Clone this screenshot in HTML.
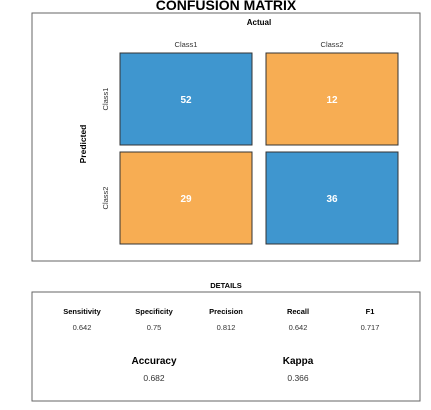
<!DOCTYPE html>
<html><head><meta charset="utf-8"><style>
body{margin:0;background:#fff;}
svg{display:block;font-family:"Liberation Sans",sans-serif;}
</style></head><body>
<svg id="c" width="431" height="410">
<text x="226" y="10" text-anchor="middle" font-size="14" font-weight="bold">CONFUSION MATRIX</text>
<rect x="32" y="13" width="388" height="248" fill="none" stroke="#666" stroke-width="1"/>
<text x="259" y="25" text-anchor="middle" font-size="8" font-weight="bold">Actual</text>
<text transform="translate(86,144) rotate(-90)" text-anchor="middle" font-size="8.5" font-weight="bold">Predicted</text>
<g id="cells"></g>
<text x="226" y="288" text-anchor="middle" font-size="7.5" font-weight="bold">DETAILS</text>
<rect x="32" y="292" width="388" height="109" fill="none" stroke="#666" stroke-width="1"/>
<g id="details"></g>
</svg>
<script>
const classes=["Class1","Class2"];
const counts=[[52,12],[29,36]];
const metricNames=["Sensitivity","Specificity","Precision","Recall","F1"];
const metricValues=["0.642","0.75","0.812","0.642","0.717"];
const summaryNames=["Accuracy","Kappa"];
const summaryValues=["0.682","0.366"];

const NS="http://www.w3.org/2000/svg";
function mk(tag,attrs,parent,txt){const e=document.createElementNS(NS,tag);for(const k in attrs)e.setAttribute(k,attrs[k]);if(txt!==undefined)e.textContent=txt;parent.appendChild(e);return e;}
const colX=i=>120+i*146, rowY=i=>53+i*99, cw=132, ch=92;
const g=document.getElementById('cells');
classes.forEach((c,i)=>{
  const t=mk('text',{x:colX(i)+cw/2,y:47,'text-anchor':'middle','font-size':'7.5',fill:'#333'},g,c);
  
  
  const r=mk('text',{transform:`translate(108,${rowY(i)+ch/2}) rotate(-90)`,'text-anchor':'middle','font-size':'7.5',fill:'#333'},g,c);
  
  
});
counts.forEach((row,i)=>row.forEach((v,j)=>{
  const rect=mk('rect',{x:colX(j),y:rowY(i),width:cw,height:ch,fill:i===j?'#3f96cf':'#f7ad53',stroke:'#333','stroke-width':1},g);
  
  
  const t=mk('text',{x:colX(j)+cw/2,y:rowY(i)+ch/2+4,'text-anchor':'middle','font-size':'10','font-weight':'bold',fill:'#fff'},g,v);
  
  
}));
const d=document.getElementById('details');
metricNames.forEach((n,i)=>{
  const x=82+i*72;
  const a=mk('text',{x:x,y:314,'text-anchor':'middle','font-size':'7.5','font-weight':'bold'},d,n);
  
  
  const b=mk('text',{x:x,y:330,'text-anchor':'middle','font-size':'7.5',fill:'#333'},d,metricValues[i]);
  
  
});
summaryNames.forEach((n,i)=>{
  const x=154+i*144;
  const a=mk('text',{x:x,y:364,'text-anchor':'middle','font-size':'10','font-weight':'bold'},d,n);
  
  
  const b=mk('text',{x:x,y:381,'text-anchor':'middle','font-size':'8.5',fill:'#333'},d,summaryValues[i]);
  
  
});
</script>
</body></html>
